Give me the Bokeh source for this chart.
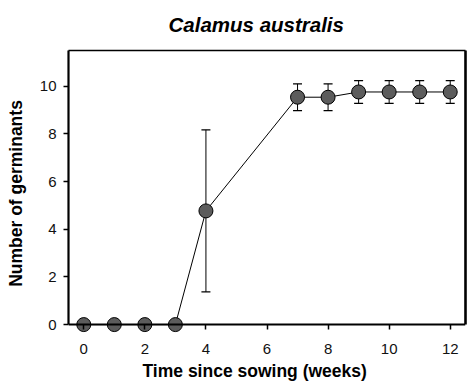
from bokeh.plotting import figure
from bokeh.models import (LinearAxis, FixedTicker, Whisker, TeeHead,
                          ColumnDataSource, Range1d, Title)
from bokeh.embed import file_html
from bokeh.resources import INLINE

# ---- data ----
weeks = [0, 1, 2, 3, 4, 7, 8, 9, 10, 11, 12]
germinants = [0, 0, 0, 0, 4.77, 9.54, 9.54, 9.76, 9.76, 9.76, 9.76]
err = [0, 0, 0, 0, 3.4, 0.56, 0.56, 0.48, 0.48, 0.48, 0.48]
x_ticks = [0, 2, 4, 6, 8, 10, 12]
y_ticks = [0, 2, 4, 6, 8, 10]
x_limits = (-0.5, 12.5)
y_limits = (-0.5, 11.5)

title_text = "Calamus australis"
x_label = "Time since sowing (weeks)"
y_label = "Number of germinants"

FONT = "Liberation Sans"

src = ColumnDataSource(dict(x=weeks, y=germinants))
err_idx = [i for i, e in enumerate(err) if e > 0]
err_src = ColumnDataSource(dict(x=[weeks[i] for i in err_idx],
                                lo=[germinants[i] - err[i] for i in err_idx],
                                hi=[germinants[i] + err[i] for i in err_idx]))

p = figure(width=471, height=389, output_backend="svg", toolbar_location=None,
           x_range=Range1d(*x_limits), y_range=Range1d(*y_limits),
           min_border_left=68, min_border_right=6, min_border_top=50,
           min_border_bottom=53, outline_line_color=None,
           background_fill_color="white", border_fill_color="white")
p.grid.visible = False

p.title = Title(text=title_text, align="left", offset=100, standoff=25,
                vertical_align="top")
p.title.text_font = FONT
p.title.text_font_size = "20.5px"
p.title.text_font_style = "bold italic"
p.title.text_color = "black"

def style(ax):
    ax.major_tick_out = 5
    ax.major_tick_in = 0
    ax.major_tick_line_width = 1.5
    ax.major_tick_line_color = "black"
    ax.minor_tick_line_color = None
    ax.major_label_text_font = FONT
    ax.major_label_text_font_size = "15px"
    ax.major_label_text_color = "#111111"
    ax.axis_label_text_font = FONT
    ax.axis_label_text_font_size = "17.5px"
    ax.axis_label_text_font_style = "bold"
    ax.axis_label_text_color = "black"

# bottom axis line sits on y = 0 (line only)
xa = p.xaxis[0]
xa.fixed_location = 0
xa.ticker = FixedTicker(ticks=[])
xa.axis_line_width = 2.2
xa.axis_line_color = "black"
xa.major_tick_out = 0
xa.major_tick_in = 0
xa.minor_tick_line_color = None

# x ticks (reaching up to y = 0) and tick labels below the frame
xl = LinearAxis(ticker=FixedTicker(ticks=x_ticks))
style(xl)
xl.axis_line_color = None
xl.major_tick_in = 12
xl.major_tick_out = -7
xl.major_label_standoff = 7
p.add_layout(xl, "below")

# x axis title as a below-title so it can be positioned like the reference
xt = Title(text=x_label, align="left", offset=74, standoff=4)
xt.text_font = FONT
xt.text_font_size = "17.5px"
xt.text_font_style = "bold"
xt.text_color = "black"
p.add_layout(xt, "below")

ya = p.yaxis[0]
style(ya)
ya.ticker = FixedTicker(ticks=y_ticks)
ya.axis_label = y_label
ya.bounds = (0, y_limits[1])
ya.axis_line_width = 2.2
ya.axis_line_color = "black"
ya.major_label_standoff = 7
ya.axis_label_standoff = 11

# frame edges on the right and top
right = LinearAxis(ticker=FixedTicker(ticks=[]), bounds=(0, y_limits[1]),
                   axis_line_width=2.6, axis_line_color="black",
                   major_tick_out=0, major_tick_in=0,
                   minor_tick_out=0, minor_tick_in=0, major_label_standoff=0)
p.add_layout(right, "right")
top = LinearAxis(ticker=FixedTicker(ticks=[]),
                 axis_line_width=1.4, axis_line_color="black",
                 major_tick_out=0, major_tick_in=0,
                 minor_tick_out=0, minor_tick_in=0, major_label_standoff=0)
p.add_layout(top, "above")

# error bars
wh = Whisker(source=err_src, base="x", upper="hi", lower="lo", dimension="height",
             line_color="black", line_width=1, level="underlay",
             upper_head=TeeHead(size=9, line_width=1.2, line_color="black"),
             lower_head=TeeHead(size=9, line_width=1.2, line_color="black"))
p.add_layout(wh)

p.line("x", "y", source=src, line_color="black", line_width=1)
p.scatter("x", "y", source=src, size=14, marker="circle",
          fill_color="#5c5c5c", line_color="black", line_width=1)

open("out.html", "w").write(file_html(p, INLINE))
